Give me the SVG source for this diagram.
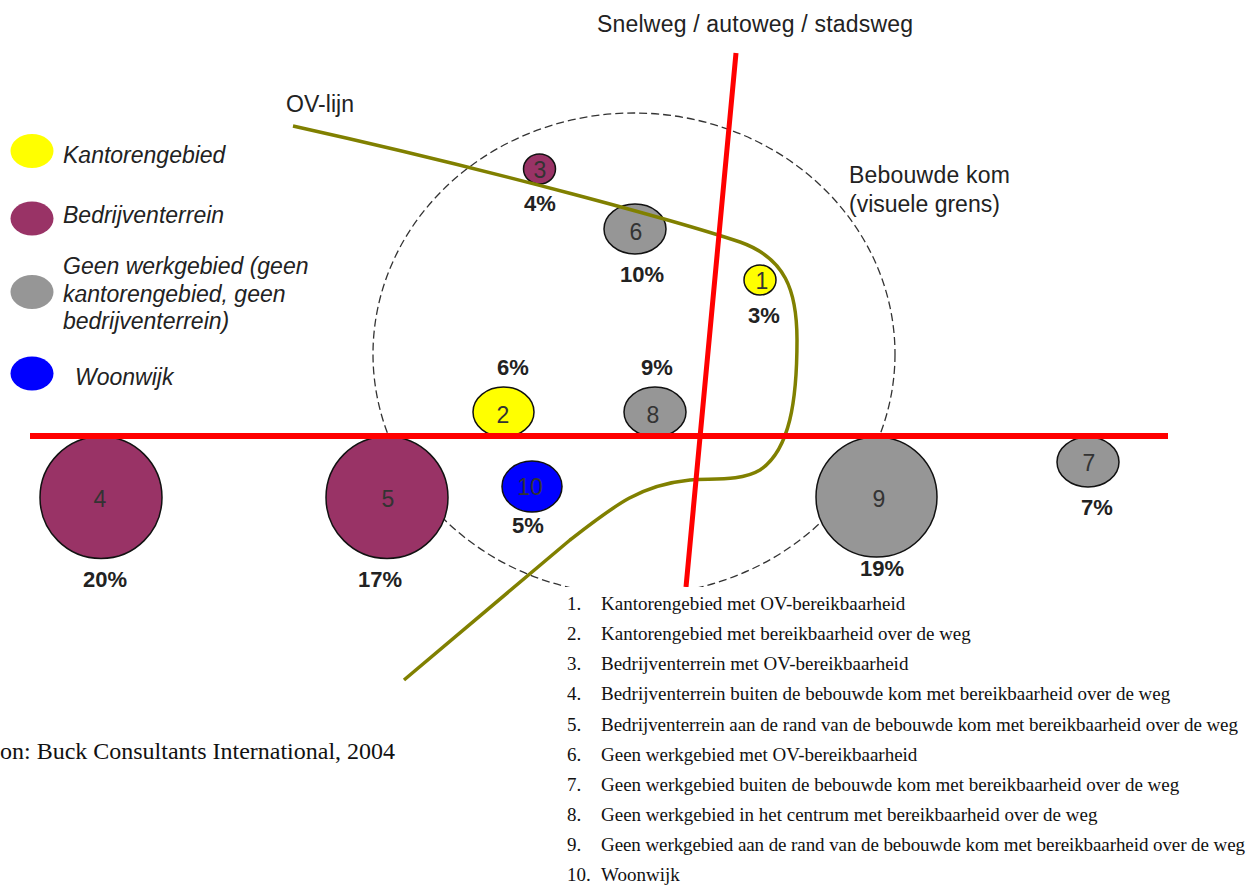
<svg xmlns="http://www.w3.org/2000/svg" width="1248" height="889" viewBox="0 0 1248 889">
  <style>
    .bubble { stroke: #111; stroke-width: 1.5; }
    .kantoor { fill: #ffff00; }
    .bedrijf { fill: #993366; }
    .geen { fill: #969696; }
    .woon { fill: #0000ff; }
    .num { font-family: "Liberation Sans", Arial, sans-serif; font-size: 23px; fill: #333; text-anchor: middle; }
    .pct { font-family: "Liberation Sans", Arial, sans-serif; font-size: 22px; font-weight: bold; fill: #222; text-anchor: middle; }
    .lbl { font-family: "Liberation Sans", Arial, sans-serif; font-size: 23px; fill: #222; }
    .leg { font-family: "Liberation Sans", Arial, sans-serif; font-size: 23px; font-style: italic; fill: #222; }
    .list { font-family: "Liberation Serif", "Times New Roman", serif; font-size: 19px; fill: #111; }
    .road { stroke: #ff0000; fill: none; }
    .ov { stroke: #808000; stroke-width: 3.5; fill: none; }
  </style>

  <rect width="1248" height="889" fill="#ffffff"/>

  <!-- built-up area boundary -->
  <ellipse id="bebouwde-kom" cx="634" cy="354" rx="261" ry="241" fill="none" stroke="#333" stroke-width="1.3" stroke-dasharray="8 4"/>

  <!-- locations -->
  <g id="n1"><ellipse class="bubble kantoor" cx="760" cy="280" rx="16" ry="15"/><text class="num" x="762" y="288.5">1</text><text class="pct" x="764" y="323">3%</text></g>
  <g id="n2"><ellipse class="bubble kantoor" cx="503.5" cy="412" rx="30.5" ry="25"/><text class="num" x="503" y="423">2</text><text class="pct" x="513" y="375">6%</text></g>
  <g id="n3"><ellipse class="bubble bedrijf" cx="539.5" cy="169" rx="16" ry="15"/><text class="num" x="540" y="177.5">3</text><text class="pct" x="540" y="211">4%</text></g>
  <g id="n4"><ellipse class="bubble bedrijf" cx="101" cy="497.5" rx="61" ry="61"/><text class="num" x="100" y="507">4</text><text class="pct" x="105" y="587">20%</text></g>
  <g id="n5"><ellipse class="bubble bedrijf" cx="387" cy="497.5" rx="61" ry="61"/><text class="num" x="388" y="507">5</text><text class="pct" x="380" y="587">17%</text></g>
  <g id="n6"><ellipse class="bubble geen" cx="635" cy="229" rx="31" ry="25"/><text class="num" x="636" y="240">6</text><text class="pct" x="642" y="282">10%</text></g>
  <g id="n7"><ellipse class="bubble geen" cx="1088" cy="462" rx="31" ry="25"/><text class="num" x="1089" y="471">7</text><text class="pct" x="1097" y="515">7%</text></g>
  <g id="n8"><ellipse class="bubble geen" cx="655" cy="412" rx="31" ry="25"/><text class="num" x="653" y="423">8</text><text class="pct" x="657" y="375">9%</text></g>
  <g id="n9"><ellipse class="bubble geen" cx="876.5" cy="497" rx="60.5" ry="60"/><text class="num" x="879" y="507">9</text><text class="pct" x="882" y="576">19%</text></g>
  <g id="n10"><ellipse class="bubble woon" cx="532" cy="486.5" rx="30" ry="25.5"/><text class="num" x="530" y="495">10</text><text class="pct" x="528" y="533">5%</text></g>

  <!-- transport lines -->
  <g id="connectors">
    <path id="ov-lijn" class="ov" d="M293,126 C500,172 680,222 740,242 C785,258 797,290 797,340 C797,400 790,450 760,470 C740,482 710,478 690,480 C640,485 615,505 570,540 L404,680"/>
    <line id="weg-horizontaal" class="road" stroke-width="6" x1="30" y1="436" x2="1168" y2="436"/>
    <line id="weg-verticaal" class="road" stroke-width="5" x1="736" y1="53" x2="686" y2="587"/>
  </g>

  <!-- labels -->
  <g id="labels">
    <text class="lbl" x="597" y="32" textLength="316">Snelweg / autoweg / stadsweg</text>
    <text class="lbl" x="286" y="112" textLength="68">OV-lijn</text>
    <text class="lbl" x="849" y="183" textLength="161">Bebouwde kom</text>
    <text class="lbl" x="849" y="212">(visuele grens)</text>
  </g>

  <!-- legend -->
  <g id="legend">
    <ellipse class="kantoor" cx="32" cy="151" rx="21.5" ry="17"/>
    <text class="leg" x="63" y="163">Kantorengebied</text>
    <ellipse class="bedrijf" cx="32" cy="218.5" rx="21.5" ry="17"/>
    <text class="leg" x="63" y="223">Bedrijventerrein</text>
    <ellipse class="geen" cx="32" cy="292" rx="21.5" ry="17"/>
    <text class="leg" x="63" y="274">Geen werkgebied (geen</text>
    <text class="leg" x="63" y="302">kantorengebied, geen</text>
    <text class="leg" x="63" y="329">bedrijventerrein)</text>
    <ellipse class="woon" cx="32" cy="373.5" rx="21.5" ry="17"/>
    <text class="leg" x="75" y="385">Woonwijk</text>
  </g>

  <!-- numbered explanation -->
  <g id="explanation">
    <rect x="553" y="587" width="695" height="302" fill="#ffffff"/>
    <g class="list">
      <text x="567" y="610">1.</text><text x="601" y="610">Kantorengebied met OV-bereikbaarheid</text>
      <text x="567" y="640">2.</text><text x="601" y="640">Kantorengebied met bereikbaarheid over de weg</text>
      <text x="567" y="670">3.</text><text x="601" y="670">Bedrijventerrein met OV-bereikbaarheid</text>
      <text x="567" y="700">4.</text><text x="601" y="700">Bedrijventerrein buiten de bebouwde kom met bereikbaarheid over de weg</text>
      <text x="567" y="731">5.</text><text x="601" y="731" textLength="637">Bedrijventerrein aan de rand van de bebouwde kom met bereikbaarheid over de weg</text>
      <text x="567" y="761">6.</text><text x="601" y="761">Geen werkgebied met OV-bereikbaarheid</text>
      <text x="567" y="791">7.</text><text x="601" y="791">Geen werkgebied buiten de bebouwde kom met bereikbaarheid over de weg</text>
      <text x="567" y="821">8.</text><text x="601" y="821">Geen werkgebied in het centrum met bereikbaarheid over de weg</text>
      <text x="567" y="851">9.</text><text x="601" y="851" textLength="644">Geen werkgebied aan de rand van de bebouwde kom met bereikbaarheid over de weg</text>
      <text x="567" y="881">10.</text><text x="601" y="881">Woonwijk</text>
    </g>
  </g>

  <text id="bron" class="list" x="0" y="759" style="font-size:24px" textLength="395">on: Buck Consultants International, 2004</text>
</svg>
